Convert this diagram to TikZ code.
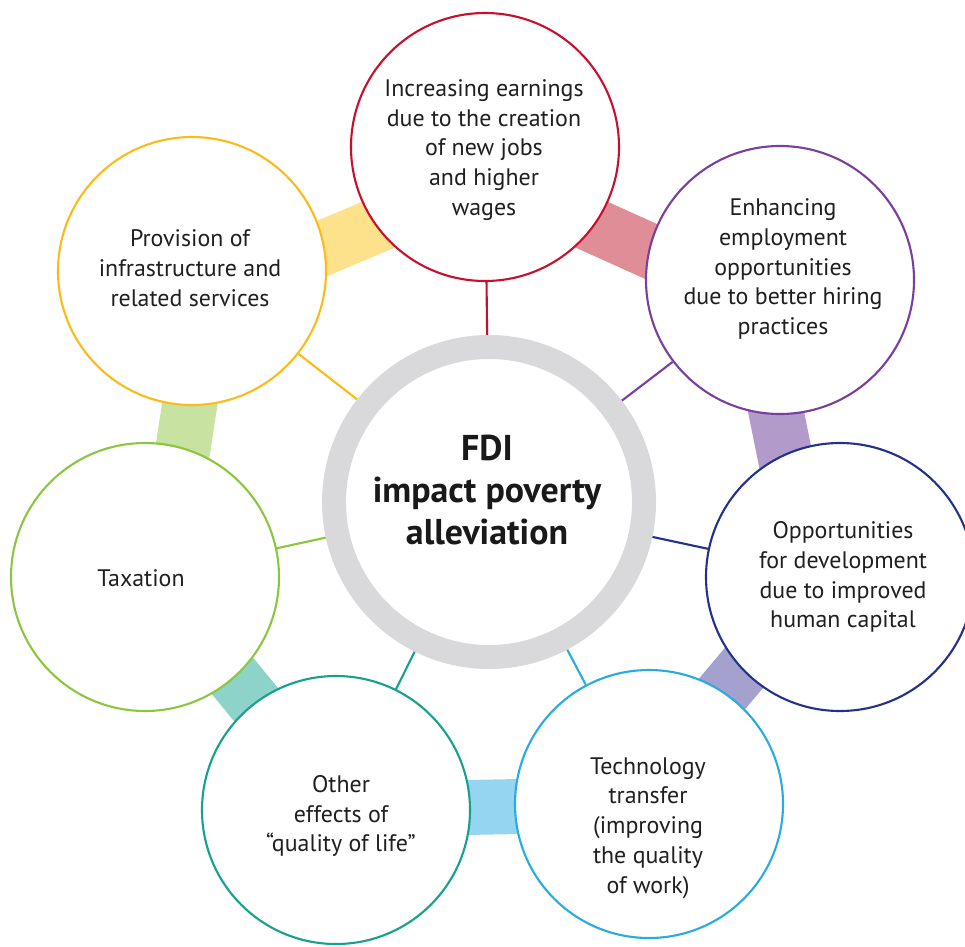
\documentclass[tikz,border=0pt]{standalone}
\usepackage{fontspec}
\setmainfont{PT Sans}
\usetikzlibrary{backgrounds,calc}

\definecolor{cEarn}{HTML}{C8102E}
\definecolor{cHire}{HTML}{7A3E9D}
\definecolor{cHuman}{HTML}{23318C}
\definecolor{cTech}{HTML}{29ABE2}
\definecolor{cLife}{HTML}{16A08D}
\definecolor{cTax}{HTML}{8CC63F}
\definecolor{cInfra}{HTML}{FDBB1A}
\definecolor{bEarn}{HTML}{DF8E98}
\definecolor{bHire}{HTML}{B29BCA}
\definecolor{bHuman}{HTML}{A4A1CE}
\definecolor{bTech}{HTML}{96D5F1}
\definecolor{bLife}{HTML}{8ED3CA}
\definecolor{bTax}{HTML}{C7E2A1}
\definecolor{bInfra}{HTML}{FDE18B}
\definecolor{cRing}{HTML}{D9D9DC}

\tikzset{
    bubble/.style={circle, draw=#1, fill=white, line width=0.6pt, minimum size=2.68cm, inner sep=0pt},
    bubtext/.style={align=center, font=\fontsize{6.8}{8.5}\selectfont, text=black!88},
    band/.style={line width=0.55cm, #1},
    spoke/.style={line width=0.6pt, #1},
}

\begin{document}
\begin{tikzpicture}
    \clip (0,0) rectangle (9.65,9.46);
    % centre ring
    \node[circle, draw=cRing, fill=white, line width=0.24cm, minimum size=3.1cm, inner sep=0pt] (fdi) at (4.89,4.44) {};
    \node[align=center, font=\bfseries\fontsize{10.2}{12}\selectfont, text=black!90] (fdi-t) at (4.87,4.56) {FDI\\impact poverty\\alleviation};

    % outer circles
    \node[bubble=cEarn] (earn) at (4.85,7.99) {};
    \node[bubble=cHire] (hire) at (7.80,6.66) {};
    \node[bubble=cHuman] (human) at (8.40,3.69) {};
    \node[bubble=cTech] (tech) at (6.49,1.42) {};
    \node[bubble=cLife] (life) at (3.36,1.36) {};
    \node[bubble=cTax] (tax) at (1.45,3.69) {};
    \node[bubble=cInfra] (infra) at (1.92,6.75) {};

    % texts
    \node[bubtext] (earn-t) at (4.84,7.96) {Increasing earnings\\due to the creation\\of new jobs\\and higher\\wages};
    \node[bubtext] (hire-t) at (7.83,6.77) {Enhancing\\employment\\opportunities\\due to better hiring\\practices};
    \node[bubtext] (human-t) at (8.43,3.69) {Opportunities\\for development\\due to improved\\human capital};
    \node[bubtext] (tech-t) at (6.48,1.18) {Technology\\transfer\\(improving\\the quality\\of work)};
    \node[bubtext] (life-t) at (3.41,1.30) {Other\\effects of\\``quality of life''};
    \node[bubtext] (tax-t) at (1.41,3.68) {Taxation};
    \node[bubtext] (infra-t) at (1.90,6.78) {Provision of\\infrastructure and\\related services};

    % bands (shifted towards the ring) and spokes behind
    \begin{scope}[on background layer]
        \foreach \a/\b/\c/\d in {infra/earn/bInfra/0.3, earn/hire/bEarn/0.27, hire/human/bHire/0.3,
                                 human/tech/bHuman/0.15, tech/life/bTech/0, life/tax/bLife/0.05, tax/infra/bTax/0.18}
            \draw[band=\c] ($(\a.center)!\d cm!-90:(\b.center)$) -- ($(\b.center)!\d cm!90:(\a.center)$);
        \foreach \a/\c in {earn/cEarn, hire/cHire, human/cHuman, tech/cTech, life/cLife, tax/cTax, infra/cInfra}
            \draw[spoke=\c] (fdi) -- (\a);
    \end{scope}
\end{tikzpicture}
\end{document}
